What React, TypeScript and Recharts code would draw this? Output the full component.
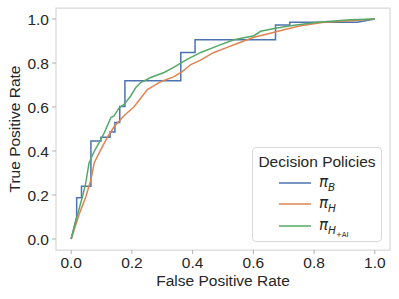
import React from "react";
import { LineChart, Line, XAxis, YAxis, ReferenceArea, Legend } from "recharts";

const policyNames = ["πB", "πH", "πH+AI"];
const colors = ["#4c72b0", "#dd8452", "#55a868"];
const axisTicks = [0, 0.2, 0.4, 0.6, 0.8, 1.0];

const fprB = [0, 0.018, 0.018, 0.034, 0.034, 0.065, 0.065, 0.098, 0.098, 0.128, 0.128, 0.144, 0.144, 0.16, 0.16, 0.177, 0.177, 0.361, 0.361, 0.408, 0.408, 0.673, 0.673, 0.72, 0.72, 0.942, 1];
const tprB = [0, 0.1, 0.187, 0.187, 0.24, 0.24, 0.445, 0.445, 0.463, 0.463, 0.486, 0.486, 0.529, 0.529, 0.602, 0.602, 0.719, 0.719, 0.848, 0.848, 0.906, 0.906, 0.973, 0.973, 0.985, 0.985, 1];

const fprH = [0, 0.026, 0.048, 0.065, 0.076, 0.098, 0.12, 0.141, 0.174, 0.207, 0.251, 0.295, 0.339, 0.366, 0.394, 0.426, 0.47, 0.514, 0.558, 0.602, 0.646, 0.701, 0.756, 0.832, 0.92, 1];
const tprH = [0, 0.111, 0.191, 0.27, 0.347, 0.407, 0.464, 0.51, 0.56, 0.601, 0.679, 0.715, 0.738, 0.761, 0.793, 0.813, 0.848, 0.871, 0.894, 0.917, 0.932, 0.951, 0.969, 0.985, 0.992, 1];

const fprHAI = [0, 0.021, 0.0375, 0.048, 0.059, 0.076, 0.092, 0.109, 0.131, 0.141, 0.158, 0.174, 0.196, 0.213, 0.229, 0.262, 0.306, 0.339, 0.383, 0.427, 0.482, 0.536, 0.602, 0.624, 0.673, 0.723, 0.811, 0.92, 1];
const tprHAI = [0, 0.111, 0.194, 0.255, 0.347, 0.399, 0.438, 0.483, 0.552, 0.559, 0.597, 0.612, 0.65, 0.689, 0.711, 0.734, 0.757, 0.781, 0.818, 0.848, 0.878, 0.906, 0.924, 0.944, 0.958, 0.969, 0.985, 0.997, 1];

const toPoints = (xs: number[], ys: number[]) => xs.map((x, i) => ({ x, y: ys[i] }));
const series = [toPoints(fprB, tprB), toPoints(fprH, tprH), toPoints(fprHAI, tprHAI)];

const FONT = '"Liberation Sans", Arial, sans-serif';
const TEXT = "#262626";

const YLabel = (props: any) => {
  const vb = props.viewBox || {};
  const cx = 14;
  const cy = vb.y + vb.height / 2;
  return (
    <text x={cx} y={cy} transform={`rotate(-90, ${cx}, ${cy})`} textAnchor="middle" dominantBaseline="central" fontSize={15.5} fill={TEXT} fontFamily={FONT}>
      True Positive Rate
    </text>
  );
};

const piStyle: React.CSSProperties = { fontFamily: '"DejaVu Sans", sans-serif', fontStyle: "italic", fontSize: 15 };
const subStyle: React.CSSProperties = { fontFamily: '"DejaVu Sans", sans-serif', fontStyle: "italic", fontSize: 10.5, position: "relative", top: 4 };

const labelFor = (i: number) => {
  if (i === 0) return (<span><span style={piStyle}>π</span><span style={subStyle}>B</span></span>);
  if (i === 1) return (<span><span style={piStyle}>π</span><span style={subStyle}>H</span></span>);
  return (
    <span>
      <span style={piStyle}>π</span>
      <span style={subStyle}>H</span>
      <span style={{ fontFamily: '"DejaVu Sans", sans-serif', fontSize: 7, position: "relative", top: 7 }}>+AI</span>
    </span>
  );
};

const LegendBox = () => (
  <div style={{ position: "relative", width: 130, height: 95, boxSizing: "border-box", border: "1px solid #d9d9d9", borderRadius: 4, background: "#fff", fontFamily: FONT, color: TEXT }}>
    <div style={{ position: "absolute", left: 0, width: 128, top: 5, textAlign: "center", fontSize: 15.5, lineHeight: "18px" }}>Decision Policies</div>
    {policyNames.map((n, i) => {
      const cy = [35, 56, 78][i];
      return (
        <div key={n}>
          <div style={{ position: "absolute", left: 26, top: cy - 1, width: 32, height: 2, background: colors[i], opacity: 0.75 }} />
          <div style={{ position: "absolute", left: 66, top: cy - 10, lineHeight: "18px", whiteSpace: "nowrap" }}>{labelFor(i)}</div>
        </div>
      );
    })}
  </div>
);

export default function App() {
  return (
    <div style={{ position: "absolute", left: 0, top: 0, background: "#fff" }}>
      <LineChart width={399} height={299} margin={{ top: 8, right: 9, left: 0, bottom: 0 }}>
        <XAxis
          type="number"
          dataKey="x"
          domain={[-0.05, 1.05]}
          ticks={axisTicks}
          allowDataOverflow
          tickFormatter={(v: number) => v.toFixed(1)}
          axisLine={false}
          tickLine={{ stroke: "#b0b0b0" }}
          tickSize={4}
          tickMargin={3}
          height={49}
          tick={{ fontSize: 15.5, fill: TEXT, fontFamily: FONT }}
          label={{ value: "False Positive Rate", position: "insideBottom", offset: 13, fontSize: 15.5, fill: TEXT, fontFamily: FONT }}
        />
        <YAxis
          type="number"
          dataKey="y"
          domain={[-0.05, 1.05]}
          ticks={axisTicks}
          allowDataOverflow
          tickFormatter={(v: number) => v.toFixed(1)}
          axisLine={false}
          tickLine={{ stroke: "#b0b0b0" }}
          tickSize={4}
          tickMargin={3}
          width={56}
          tick={{ fontSize: 15.5, fill: TEXT, fontFamily: FONT }}
          label={<YLabel />}
        />
        <ReferenceArea x1={-0.05} x2={1.05} y1={-0.05} y2={1.05} fill="none" stroke="#d9d9d9" strokeWidth={1.25} />
        {series.map((d, i) => (
          <Line key={policyNames[i]} data={d} dataKey="y" name={policyNames[i]} type="linear" stroke={colors[i]} strokeWidth={1.5} dot={false} isAnimationActive={false} />
        ))}
        <Legend layout="horizontal" verticalAlign="middle" align="center" content={() => <LegendBox />} wrapperStyle={{ position: "absolute", left: 252, top: 147, width: 130, height: 95 }} />
      </LineChart>
    </div>
  );
}
